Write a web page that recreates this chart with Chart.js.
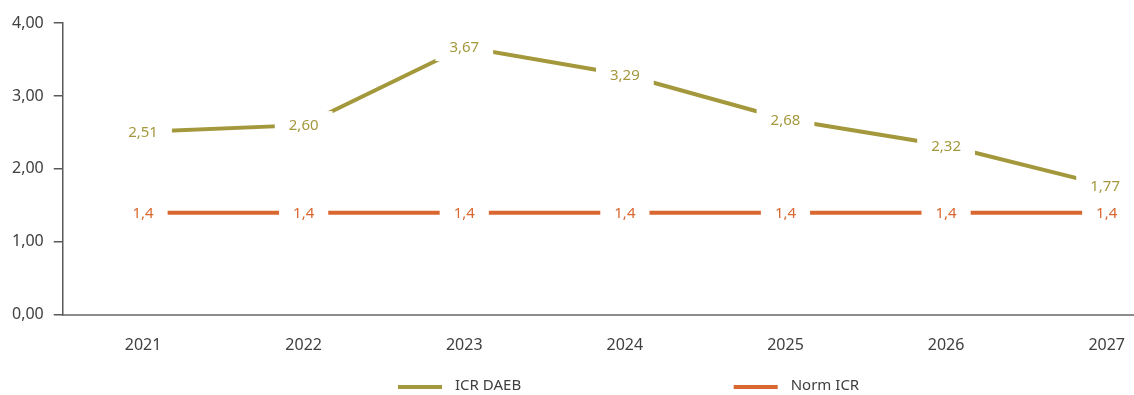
<!DOCTYPE html>
<html>
<meta charset="UTF-8">
<head>
    <title>ICR DAEB</title>
    <script src="https://cdn.jsdelivr.net/npm/chart.js"></script>
    <style>
        body { margin: 0; background: #fff; }
        #chartContainer { width: 1134px; height: 395px; }
    </style>
</head>
<body>
<div id="chartContainer">
    <canvas id="chart"></canvas>
</div>

<script>
    // Данные графика
    const years = [2021, 2022, 2023, 2024, 2025, 2026, 2027];
    const icrDaeb = [2.51, 2.60, 3.67, 3.29, 2.68, 2.32, 1.77];
    const normIcr = [1.4, 1.4, 1.4, 1.4, 1.4, 1.4, 1.4];
    const yTicks = [0, 1, 2, 3, 4];

    const FONT = '"Noto Sans", "Open Sans", sans-serif';
    const TEXT_COLOR = '#404040';

    const toPoints = values => years.map((year, i) => ({ x: year, y: values[i] }));
    const fmt = (v, d) => v.toFixed(d).replace('.', ',');

    // Подписи значений на белой подложке поверх линии
    const pointLabels = {
        id: 'pointLabels',
        afterDatasetsDraw(chart) {
            const ctx = chart.ctx;
            const area = chart.chartArea;
            ctx.save();
            ctx.font = '15px ' + FONT;
            ctx.textAlign = 'center';
            ctx.textBaseline = 'middle';
            chart.data.datasets.forEach((ds, i) => {
                chart.getDatasetMeta(i).data.forEach((pt, j) => {
                    const text = fmt(ds.data[j].y, ds.decimals);
                    const halfW = ctx.measureText(text).width / 2 + 14;
                    const halfH = 14;
                    const x = Math.min(pt.x, area.right - halfW);
                    ctx.fillStyle = '#ffffff';
                    ctx.fillRect(x - halfW, pt.y - halfH, halfW * 2, halfH * 2);
                    ctx.fillStyle = ds.borderColor;
                    ctx.fillText(text, x, pt.y + 1);
                });
            });
            ctx.restore();
        }
    };

    // Легенда внизу с широким расстоянием между элементами
    const bottomLegend = {
        id: 'bottomLegend',
        afterDraw(chart) {
            const ctx = chart.ctx;
            const y = 386;
            const starts = [0.351, 0.647];
            ctx.save();
            ctx.font = '15px ' + FONT;
            ctx.textBaseline = 'middle';
            chart.data.datasets.forEach((ds, i) => {
                const x = chart.width * starts[i];
                ctx.strokeStyle = ds.borderColor;
                ctx.lineWidth = 4;
                ctx.beginPath();
                ctx.moveTo(x, y + 1);
                ctx.lineTo(x + 44, y + 1);
                ctx.stroke();
                ctx.fillStyle = TEXT_COLOR;
                ctx.fillText(ds.label, x + 57, y);
            });
            ctx.restore();
        }
    };

    const ctx = document.getElementById('chart').getContext('2d');
    new Chart(ctx, {
        type: 'line',
        data: {
            datasets: [{
                label: 'ICR DAEB',
                data: toPoints(icrDaeb),
                decimals: 2,
                borderColor: '#a4983c',
                borderWidth: 4,
                pointRadius: 0,
                tension: 0,
                fill: false
            }, {
                label: 'Norm ICR',
                data: toPoints(normIcr),
                decimals: 1,
                borderColor: '#d9672f',
                borderWidth: 4,
                pointRadius: 0,
                tension: 0,
                fill: false
            }]
        },
        options: {
            responsive: true,
            maintainAspectRatio: false,
            animation: false,
            layout: { padding: { left: 2, top: 23, right: 0, bottom: 37 } },
            plugins: {
                legend: { display: false },
                tooltip: { enabled: false }
            },
            scales: {
                x: {
                    type: 'linear',
                    min: 2020.5,
                    max: 2027.17,
                    afterBuildTicks: scale => {
                        scale.ticks = years.map(v => ({ value: v }));
                    },
                    // невидимые засечки дают отступ подписей от оси
                    grid: {
                        drawOnChartArea: false,
                        drawTicks: true,
                        tickLength: 18,
                        tickColor: 'rgba(0,0,0,0)'
                    },
                    border: { display: true, color: '#8c8c8c', width: 2 },
                    ticks: {
                        padding: 3,
                        color: TEXT_COLOR,
                        font: { family: FONT, size: 16 },
                        maxRotation: 0,
                        callback: v => String(v)
                    }
                },
                y: {
                    min: 0,
                    max: 4,
                    afterBuildTicks: scale => {
                        scale.ticks = yTicks.map(v => ({ value: v }));
                    },
                    grid: {
                        drawOnChartArea: false,
                        color: '#595959',
                        lineWidth: 1.5,
                        tickLength: 9
                    },
                    border: { display: true, color: '#595959', width: 1.5 },
                    ticks: {
                        padding: 10,
                        color: TEXT_COLOR,
                        font: { family: FONT, size: 16 },
                        callback: v => fmt(v, 2)
                    }
                }
            }
        },
        plugins: [pointLabels, bottomLegend]
    });
</script>
</body>
</html>
